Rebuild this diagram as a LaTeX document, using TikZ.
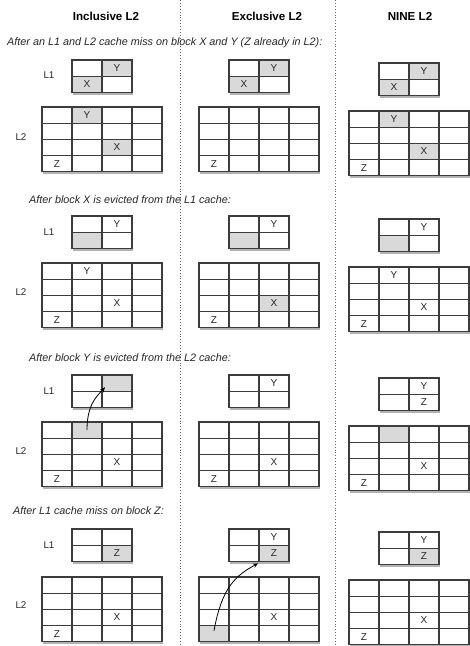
\documentclass[tikz,border=0pt]{standalone}
\usepackage{fontspec}
\setmainfont{Liberation Sans}
\usetikzlibrary{arrows.meta,calc,shadows}
\definecolor{cellline}{HTML}{3C3C3C}
\definecolor{cellhit}{HTML}{D9D9D9}
\definecolor{inktext}{HTML}{262626}
\tikzset{
  cell/.style={draw=cellline, line width=1.3pt, fill=white, minimum width=30pt, minimum height=16.2pt,
    inner sep=0pt, outer sep=0pt, text=inktext, font=\fontsize{10}{11}\selectfont},
  cacheframe/.style={draw=cellline, line width=1.3pt, fill=white, inner sep=0pt, outer sep=0pt,
    drop shadow={shadow xshift=0.8pt, shadow yshift=-2.6pt, opacity=0.3, fill=black}},
}
% one cache array: name, left, top, rows, cols
\newcommand{\cachegrid}[5]{%
  \node[cacheframe, minimum width=#5*30pt, minimum height=#4*16.2pt, anchor=north west] (#1) at (#2,#3) {};
  \foreach \r in {1,...,#4}{
    \foreach \c in {1,...,#5}{
      \node[cell] (#1-\r\c) at ({#2+30*\c-15},{#3+16.2*\r-8.1}) {};
    }
  }
}
\newcommand{\blk}[3][]{\node[cell,#1] (#2-b) at (#2) {#3};}

\begin{document}
\begin{tikzpicture}[
  x=1pt, y=-1pt,
  hit/.style={fill=cellhit},
  colhead/.style={font=\bfseries\fontsize{11.6}{13}\selectfont, text=black},
  stepnote/.style={font=\itshape\fontsize{10.8}{12}\selectfont, text=inktext, anchor=west, inner sep=0pt},
  level/.style={font=\fontsize{9.8}{11}\selectfont, text=inktext},
  sepline/.style={dotted, line width=0.9pt, draw=gray!80!black},
  movearr/.style={-{Stealth[length=5pt, width=4.5pt]}, line width=0.8pt, draw=black},
]
  \useasboundingbox (0,0) rectangle (470,646);

  \draw[sepline] (180,0) -- (180,646);
  \draw[sepline] (335,0) -- (335,646);

  \node[colhead] (hdinc)  at (106,16) {Inclusive L2};
  \node[colhead] (hdexc)  at (267,16) {Exclusive L2};
  \node[colhead] (hdnine) at (410,16) {NINE L2};

  % after the L1 and L2 miss
  \node[stepnote] (noteA) at (7,43) {After an L1 and L2 cache miss on block X and Y (Z already in L2):};
  \node[level] (lvA1) at (49,75) {L1};
  \node[level] (lvA2) at (21,137) {L2};
  \cachegrid{incA1}{72}{60}{2}{2}
  \cachegrid{incA2}{42}{107}{4}{4}
  \cachegrid{excA1}{229}{60}{2}{2}
  \cachegrid{excA2}{199}{107}{4}{4}
  \cachegrid{nineA1}{379}{63}{2}{2}
  \cachegrid{nineA2}{349}{111}{4}{4}
  \blk[hit]{incA1-12}{Y} \blk[hit]{incA1-21}{X}
  \blk[hit]{incA2-12}{Y} \blk[hit]{incA2-33}{X} \blk{incA2-41}{Z}
  \blk[hit]{excA1-12}{Y} \blk[hit]{excA1-21}{X}
  \blk{excA2-41}{Z}
  \blk[hit]{nineA1-12}{Y} \blk[hit]{nineA1-21}{X}
  \blk[hit]{nineA2-12}{Y} \blk[hit]{nineA2-33}{X} \blk{nineA2-41}{Z}

  % X leaves L1
  \node[stepnote] (noteB) at (29,200) {After block X is evicted from the L1 cache:};
  \node[level] (lvB1) at (49,232) {L1};
  \node[level] (lvB2) at (21,292) {L2};
  \cachegrid{incB1}{72}{216}{2}{2}
  \cachegrid{incB2}{42}{263}{4}{4}
  \cachegrid{excB1}{229}{216}{2}{2}
  \cachegrid{excB2}{199}{263}{4}{4}
  \cachegrid{nineB1}{379}{219}{2}{2}
  \cachegrid{nineB2}{349}{267}{4}{4}
  \blk{incB1-12}{Y} \blk[hit]{incB1-21}{}
  \blk{incB2-12}{Y} \blk{incB2-33}{X} \blk{incB2-41}{Z}
  \blk{excB1-12}{Y} \blk[hit]{excB1-21}{}
  \blk[hit]{excB2-33}{X} \blk{excB2-41}{Z}
  \blk{nineB1-12}{Y} \blk[hit]{nineB1-21}{}
  \blk{nineB2-12}{Y} \blk{nineB2-33}{X} \blk{nineB2-41}{Z}

  % Y leaves L2
  \node[stepnote] (noteC) at (29,358) {After block Y is evicted from the L2 cache:};
  \node[level] (lvC1) at (49,391) {L1};
  \node[level] (lvC2) at (21,451) {L2};
  \cachegrid{incC1}{72}{375}{2}{2}
  \cachegrid{incC2}{42}{422}{4}{4}
  \cachegrid{excC1}{229}{375}{2}{2}
  \cachegrid{excC2}{199}{422}{4}{4}
  \cachegrid{nineC1}{379}{378}{2}{2}
  \cachegrid{nineC2}{349}{426}{4}{4}
  \blk[hit]{incC1-12}{}
  \blk[hit]{incC2-12}{} \blk{incC2-33}{X} \blk{incC2-41}{Z}
  \blk{excC1-12}{Y}
  \blk{excC2-33}{X} \blk{excC2-41}{Z}
  \blk{nineC1-12}{Y} \blk{nineC1-22}{Z}
  \blk[hit]{nineC2-12}{} \blk{nineC2-33}{X} \blk{nineC2-41}{Z}
  \draw[movearr] (incC2-12-b.center) .. controls +(0,-26) and +(-8,9) .. ($(incC1-12.south west)+(3,-4)$);

  % Z missed in L1
  \node[stepnote] (noteD) at (13,511) {After L1 cache miss on block Z:};
  \node[level] (lvD1) at (49,545) {L1};
  \node[level] (lvD2) at (21,605) {L2};
  \cachegrid{incD1}{72}{529}{2}{2}
  \cachegrid{incD2}{42}{577}{4}{4}
  \cachegrid{excD1}{229}{529}{2}{2}
  \cachegrid{excD2}{199}{577}{4}{4}
  \cachegrid{nineD1}{379}{532}{2}{2}
  \cachegrid{nineD2}{349}{580}{4}{4}
  \blk[hit]{incD1-22}{Z}
  \blk{incD2-33}{X} \blk{incD2-41}{Z}
  \blk{excD1-12}{Y} \blk[hit]{excD1-22}{Z}
  \blk[hit]{excD2-41}{} \blk{excD2-33}{X}
  \blk{nineD1-12}{Y} \blk[hit]{nineD1-22}{Z}
  \blk{nineD2-33}{X} \blk{nineD2-41}{Z}
  \draw[movearr] ($(excD2-41-b.center)+(0,-3)$) .. controls +(8,-44) and +(-22,12) .. ($(excD1-22.south west)+(-1,2)$);
\end{tikzpicture}
\end{document}
